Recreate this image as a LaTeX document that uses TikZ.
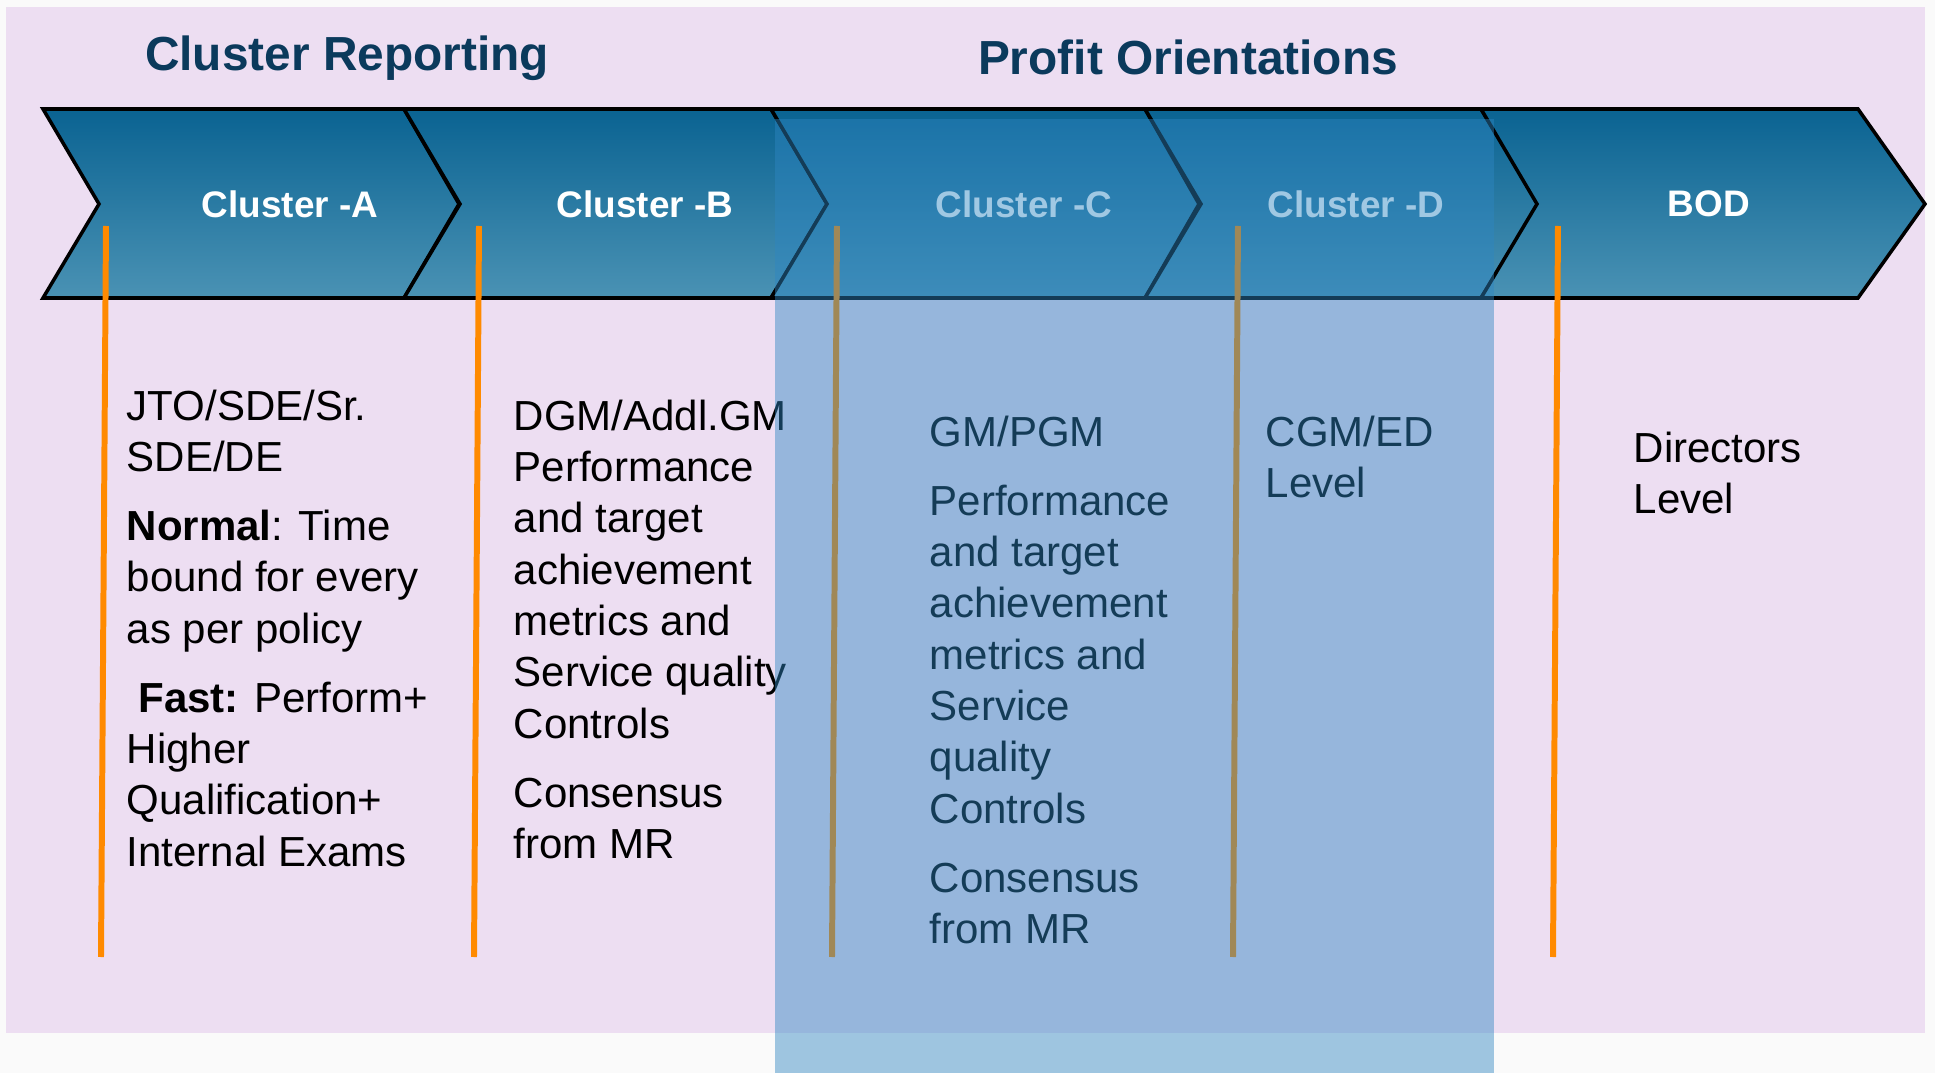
\documentclass[tikz,border=0pt]{standalone}
\usepackage{fontspec}
\setmainfont{Liberation Sans}

\definecolor{pagebg}{HTML}{EDDEF2}
\definecolor{bandtop}{HTML}{0A6392}
\definecolor{bandbot}{HTML}{4A92B4}
\definecolor{titleblue}{HTML}{0B3A5C}
\definecolor{markorange}{HTML}{FF8A00}
\definecolor{focusblue}{HTML}{2E86C2}

\begin{document}
\begin{tikzpicture}[x=0.01cm, y=-0.01cm,
  chev/.style={draw=black, line width=1pt, top color=bandtop, bottom color=bandbot},
  chevlabel/.style={text=white, font=\fontsize{10.5}{12}\selectfont\bfseries},
  heading/.style={anchor=base, text=titleblue, font=\fontsize{13.6}{16}\selectfont\bfseries},
  body/.style={anchor=north west, inner sep=0pt, align=left, font=\fontsize{11.95}{14.6}\selectfont},
  stage/.style={draw=markorange, line width=1.7pt}]
\useasboundingbox (0,0) rectangle (1935,1073);
\fill[white!98!black] (0,0) rectangle (1935,1073);
\fill[pagebg] (6,7) rectangle (1925,1033);

% headings
\node[heading] (report) at (347,71) {Cluster Reporting};
\node[heading] (profit) at (1188,75) {Profit Orientations};

% chevron band
\foreach \l/\r/\t in {43/404/459, 404/771/827, 771/1145/1199, 1145/1481/1539, 1481/1858/1925}
  \path[chev] (\l,109) -- (\r,109) -- (\t,204) -- (\r,298) -- (\l,298) -- ({\l+56},204) -- cycle;

\node[chevlabel] (cA) at (290,204) {Cluster -A};
\node[chevlabel] (cB) at (645,204) {Cluster -B};
\node[chevlabel] (cC) at (1024,204) {Cluster -C};
\node[chevlabel] (cD) at (1356,204) {Cluster -D};
\node[chevlabel] (bod) at (1709,204) {BOD};

% orange stage lines
\foreach \x in {106, 479, 837, 1238, 1558}
  \draw[stage] (\x,226) -- ({\x-5},957);

% column texts
\node[body] (colA) at (126,389) {JTO/SDE/Sr.\\SDE/DE\\[5pt]
  \textbf{Normal}: Time\\bound for every\\as per policy\\[5pt]
  \hspace{0.28em}\textbf{Fast:} Perform+\\Higher\\Qualification+\\Internal Exams};
\node[body] (colB) at (513,399) {DGM/Addl.GM\\Performance\\and target\\achievement\\metrics and\\Service quality\\Controls\\[5pt]
  Consensus\\from MR};
\node[body] (colC) at (929,415) {GM/PGM\\[5pt]
  Performance\\and target\\achievement\\metrics and\\Service\\quality\\Controls\\[5pt]
  Consensus\\from MR};
\node[body] (colD) at (1265,415) {CGM/ED\\Level};
\node[body] (colE) at (1633,431) {Directors\\Level};

% highlighted span over clusters C and D
\fill[focusblue, opacity=0.45] (775,119) rectangle (1494,1073);
\end{tikzpicture}
\end{document}
